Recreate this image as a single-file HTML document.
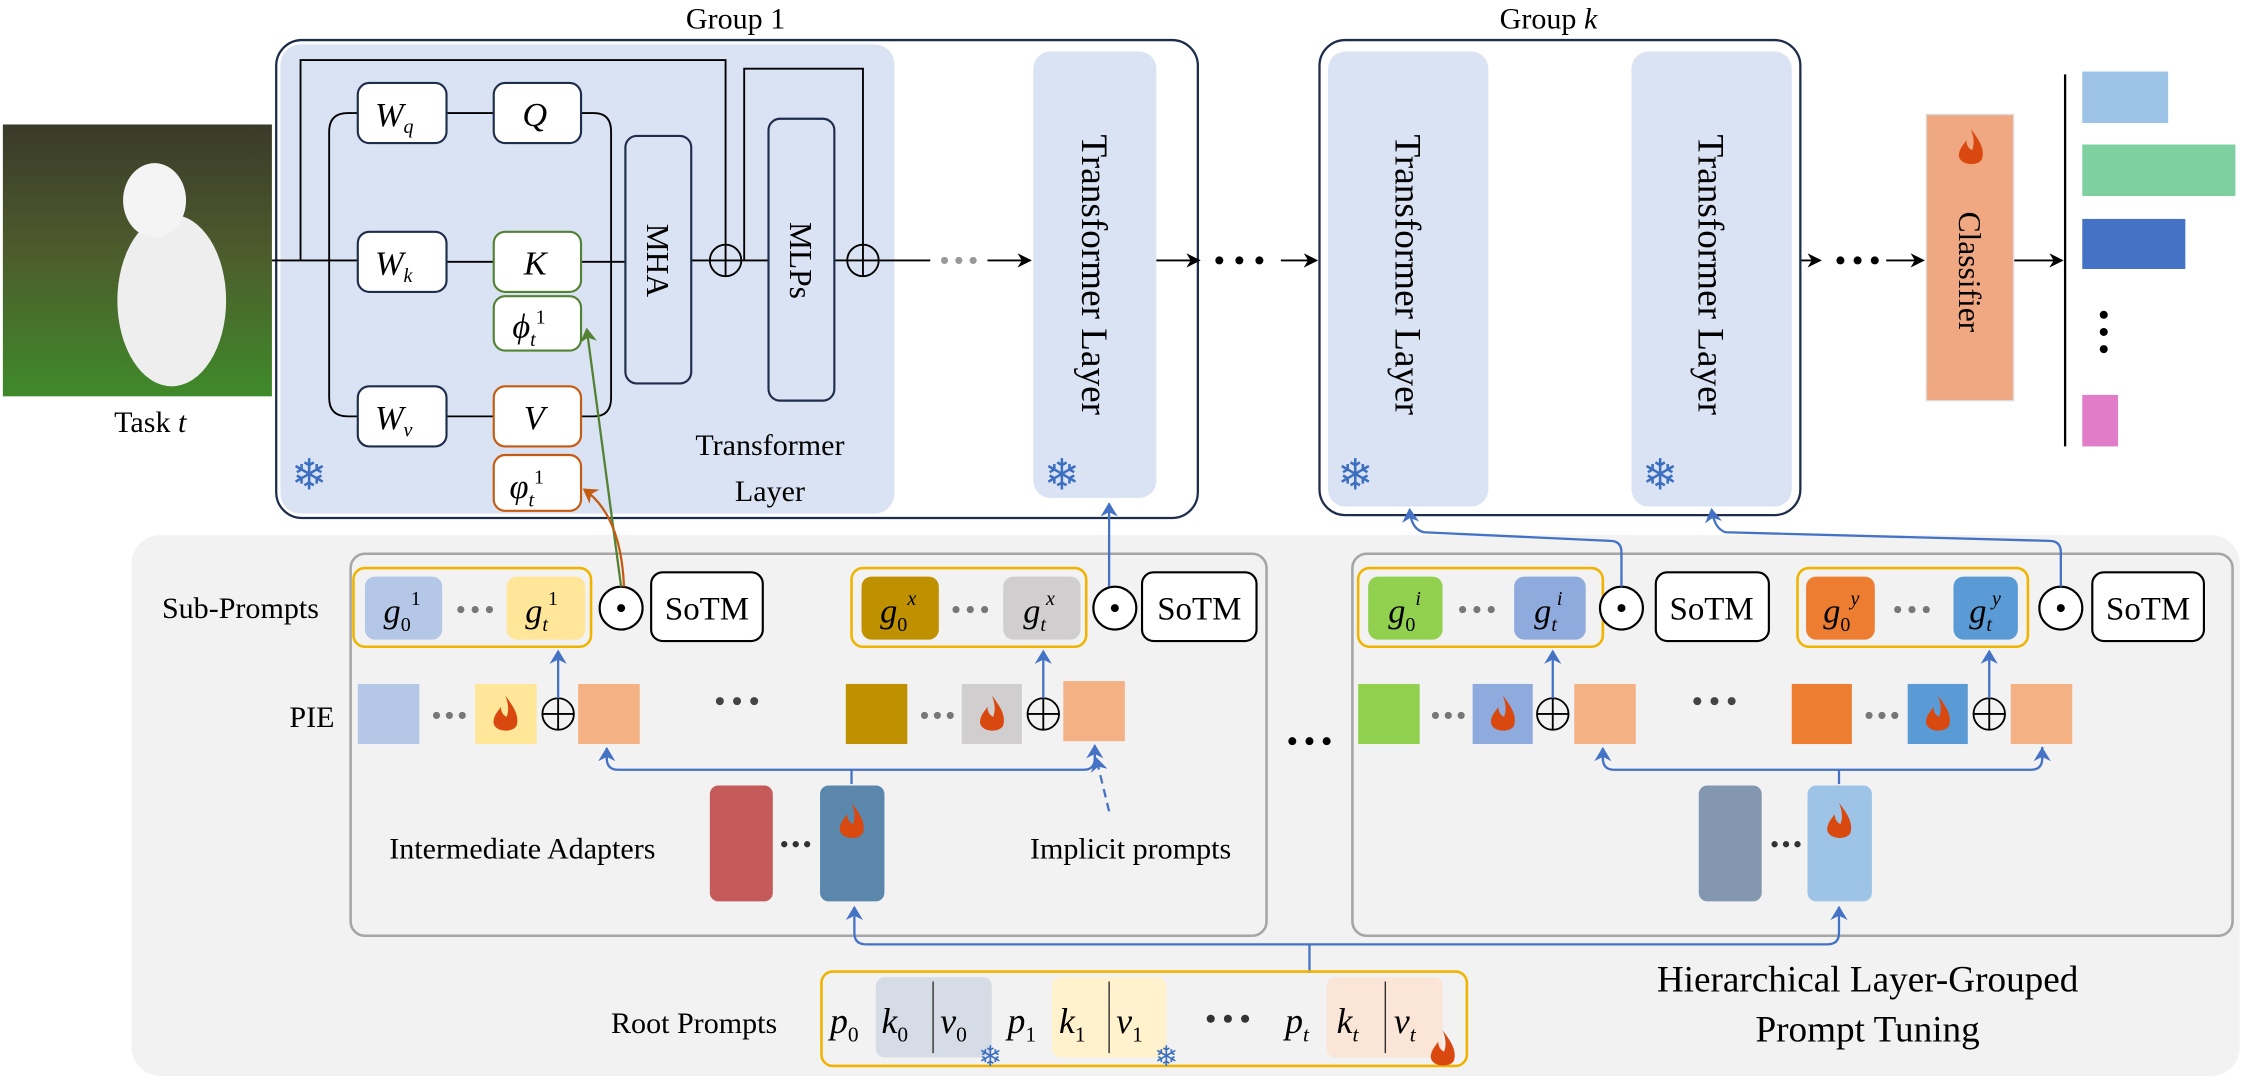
<!DOCTYPE html>
<html><head><meta charset="utf-8"><style>
html,body{margin:0;padding:0;background:#fff;}
svg{display:block}
text{font-family:"Liberation Serif",serif}
.m{font-style:italic}
.sf{fill:#3d6fc0}
</style></head><body>
<svg width="2244" height="1086" viewBox="0 0 1568 759" preserveAspectRatio="none" xmlns="http://www.w3.org/2000/svg">
<defs>
<marker id="ak" markerWidth="10" markerHeight="10" refX="9" refY="5" orient="auto" markerUnits="userSpaceOnUse"><path d="M0,0 L10,5 L0,10 L3,5 z" fill="#000"/></marker>
<marker id="ab" markerWidth="10" markerHeight="12" refX="9" refY="6" orient="auto" markerUnits="userSpaceOnUse"><path d="M0,0 L10,6 L0,12 L3,6 z" fill="#4472c4"/></marker>
<marker id="ag" markerWidth="10" markerHeight="12" refX="9" refY="6" orient="auto" markerUnits="userSpaceOnUse"><path d="M0,0 L10,6 L0,12 L3,6 z" fill="#548235"/></marker>
<marker id="ao" markerWidth="10" markerHeight="12" refX="9" refY="6" orient="auto" markerUnits="userSpaceOnUse"><path d="M0,0 L10,6 L0,12 L3,6 z" fill="#c55a11"/></marker>
<linearGradient id="dog" x1="0" y1="0" x2="0" y2="1"><stop offset="0" stop-color="#3a3a2a"/><stop offset="0.45" stop-color="#4d5a2c"/><stop offset="1" stop-color="#3f8a2a"/></linearGradient>
<g id="fl"><path d="M0,-14 C6,-6 10,0 8,7 C6,12 -6,12 -8,6 C-9,1 -5,-3 -3,-6 C-3,-2 -1,0 1,1 C3,-4 2,-9 0,-14z" fill="#d9480f"/></g>
</defs>

<!-- dog image -->
<rect x="2" y="87" width="188" height="190" fill="url(#dog)"/>
<ellipse cx="120" cy="210" rx="38" ry="60" fill="#eeeeee"/>
<ellipse cx="108" cy="140" rx="22" ry="26" fill="#f4f4f4"/>
<text x="105" y="302" font-size="21" text-anchor="middle">Task <tspan class="m">t</tspan></text>

<!-- Group 1 -->
<text x="514" y="20" font-size="21" text-anchor="middle">Group 1</text>
<rect x="193" y="28" width="644" height="334" rx="18" fill="#fff" stroke="#1f2d4d" stroke-width="1.6"/>
<rect x="196" y="31" width="429" height="328" rx="14" fill="#dae3f3"/>
<rect x="722" y="36" width="86" height="312" rx="12" fill="#dae3f3"/>
<text transform="translate(765,192) rotate(90)" font-size="26" text-anchor="middle" dy="9">Transformer Layer</text>
<text x="742" y="342" font-size="30" class="sf" text-anchor="middle">❄</text>
<text x="216" y="342" font-size="30" class="sf" text-anchor="middle">❄</text>
<text x="538" y="318" font-size="21" text-anchor="middle">Transformer</text>
<text x="538" y="350" font-size="21" text-anchor="middle">Layer</text>

<g fill="none" stroke="#000" stroke-width="1.3">
<path d="M190,182 H250"/>
<path d="M230,182 V92 Q230,79 243,79 H250"/>
<path d="M230,182 V278 Q230,291 243,291 H250"/>
<path d="M312,79 H345 M312,183 H345 M312,291 H345"/>
<path d="M406,79 H415 Q427,79 427,92 V278 Q427,291 415,291 H406"/>
<path d="M406,183 H437"/>
<path d="M210,182 V42 H507 V171"/>
<path d="M483,182 H496 M518,182 H537"/>
<path d="M520,182 V48 H603 V171"/>
<path d="M583,182 H592"/>
<path d="M614,182 H650"/>
<path d="M690,182 H720" marker-end="url(#ak)"/>
<path d="M808,182 H838" marker-end="url(#ak)"/>
<path d="M895,182 H920" marker-end="url(#ak)"/>
<path d="M1040,182 H1058" marker-end="url(#ak)"/>
<path d="M1108,182 H1138" marker-end="url(#ak)"/>
<path d="M1252,182 H1272" marker-end="url(#ak)"/>
<path d="M1318,182 H1344" marker-end="url(#ak)"/>
<path d="M1407,182 H1441" marker-end="url(#ak)"/>
</g>
<g fill="#fff" stroke="#1f2d4d" stroke-width="1.5">
<rect x="250" y="58" width="62" height="42" rx="8"/>
<rect x="345" y="58" width="61" height="42" rx="8"/>
<rect x="250" y="162" width="62" height="42" rx="8"/>
<rect x="250" y="270" width="62" height="42" rx="8"/>
<rect x="437" y="95" width="46" height="173" rx="8" fill="none"/>
<rect x="537" y="83" width="46" height="197" rx="8" fill="none"/>
</g>
<rect x="345" y="162" width="61" height="42" rx="8" fill="#fff" stroke="#548235" stroke-width="1.5"/>
<rect x="345" y="207" width="61" height="38" rx="8" fill="#fff" stroke="#548235" stroke-width="1.5"/>
<rect x="345" y="270" width="61" height="42" rx="8" fill="#fff" stroke="#c55a11" stroke-width="1.5"/>
<rect x="345" y="318" width="61" height="39" rx="8" fill="#fff" stroke="#c55a11" stroke-width="1.5"/>
<g font-size="24" class="m">
<text x="262" y="88" class="m">W<tspan font-size="14" dy="5">q</tspan></text>
<text x="365" y="88" class="m">Q</text>
<text x="262" y="192" class="m">W<tspan font-size="14" dy="5">k</tspan></text>
<text x="366" y="192" class="m">K</text>
<text x="358" y="236" class="m">ϕ<tspan font-size="14" dy="6">t</tspan><tspan font-size="14" dy="-16" font-style="normal">1</tspan></text>
<text x="262" y="300" class="m">W<tspan font-size="14" dy="5">v</tspan></text>
<text x="366" y="300" class="m">V</text>
<text x="356" y="348" class="m">φ<tspan font-size="14" dy="6">t</tspan><tspan font-size="14" dy="-16" font-style="normal">1</tspan></text>
</g>
<text transform="translate(460,182) rotate(90)" font-size="22" text-anchor="middle" dy="8">MHA</text>
<text transform="translate(560,182) rotate(90)" font-size="22" text-anchor="middle" dy="8">MLPs</text>
<g fill="none" stroke="#000" stroke-width="1.3">
<circle cx="507" cy="182" r="11"/><path d="M496,182 H518 M507,171 V193"/>
<circle cx="603" cy="182" r="11"/><path d="M592,182 H614 M603,171 V193"/>
</g>
<g fill="#999"><circle cx="660" cy="182" r="2.5"/><circle cx="670" cy="182" r="2.5"/><circle cx="680" cy="182" r="2.5"/>
<circle cx="1075" cy="182" r="2.5"/><circle cx="1085" cy="182" r="2.5"/><circle cx="1095" cy="182" r="2.5"/></g>
<g fill="#000"><circle cx="852" cy="182" r="2.8"/><circle cx="866" cy="182" r="2.8"/><circle cx="880" cy="182" r="2.8"/>
<circle cx="1286" cy="182" r="2.8"/><circle cx="1298" cy="182" r="2.8"/><circle cx="1310" cy="182" r="2.8"/></g>

<!-- Group k -->
<text x="1082" y="20" font-size="21" text-anchor="middle">Group <tspan class="m">k</tspan></text>
<rect x="922" y="28" width="336" height="332" rx="18" fill="#fff" stroke="#1f2d4d" stroke-width="1.6"/>
<rect x="928" y="36" width="112" height="318" rx="12" fill="#dae3f3"/>
<rect x="1140" y="36" width="112" height="318" rx="12" fill="#dae3f3"/>
<text transform="translate(984,192) rotate(90)" font-size="26" text-anchor="middle" dy="9">Transformer Layer</text>
<text transform="translate(1196,192) rotate(90)" font-size="26" text-anchor="middle" dy="9">Transformer Layer</text>
<text x="947" y="342" font-size="30" class="sf" text-anchor="middle">❄</text>
<text x="1160" y="342" font-size="30" class="sf" text-anchor="middle">❄</text>

<!-- classifier -->
<rect x="1346" y="80" width="61" height="200" fill="#f0a882" stroke="#ddd"/>
<use href="#fl" x="1377" y="104"/>
<text transform="translate(1376,190) rotate(90)" font-size="22" text-anchor="middle" dy="7">Classifier</text>
<path d="M1443,52 V312" stroke="#000" stroke-width="1.6"/>
<rect x="1455" y="50" width="60" height="36" fill="#9dc3e6"/>
<rect x="1455" y="101" width="107" height="36" fill="#7fd0a0"/>
<rect x="1455" y="153" width="72" height="35" fill="#4472c4"/>
<g fill="#000"><circle cx="1470" cy="220" r="2.8"/><circle cx="1470" cy="232" r="2.8"/><circle cx="1470" cy="244" r="2.8"/></g>
<rect x="1455" y="276" width="25" height="36" fill="#e07cc8"/>

<!-- bottom region -->
<rect x="92" y="374" width="1473" height="378" rx="20" fill="#f2f2f2"/>
<rect x="245" y="387" width="640" height="267" rx="10" fill="none" stroke="#a6a6a6" stroke-width="1.8"/>
<rect x="945" y="387" width="615" height="267" rx="10" fill="none" stroke="#a6a6a6" stroke-width="1.8"/>
<text x="168" y="432" font-size="21" text-anchor="middle">Sub-Prompts</text>
<text x="218" y="508" font-size="21" text-anchor="middle">PIE</text>
<text x="365" y="600" font-size="21" text-anchor="middle">Intermediate Adapters</text>
<text x="790" y="600" font-size="21" text-anchor="middle">Implicit prompts</text>
<g fill="#000"><circle cx="903" cy="518" r="2.8"/><circle cx="915" cy="518" r="2.8"/><circle cx="927" cy="518" r="2.8"/></g>

<!-- sub-prompts row -->
<g stroke="#f0b400" stroke-width="1.8" fill="none">
<rect x="247" y="397" width="166" height="55" rx="8"/>
<rect x="595" y="397" width="164" height="55" rx="8"/>
<rect x="949" y="397" width="171" height="55" rx="8"/>
<rect x="1256" y="397" width="161" height="55" rx="8"/>
</g>
<rect x="255" y="403" width="54" height="44" rx="7" fill="#b4c7e7"/>
<rect x="354" y="403" width="55" height="44" rx="7" fill="#ffe699"/>
<rect x="602" y="403" width="54" height="44" rx="7" fill="#bf9000"/>
<rect x="701" y="403" width="54" height="44" rx="7" fill="#d0cece"/>
<rect x="956" y="403" width="52" height="44" rx="7" fill="#92d050"/>
<rect x="1058" y="403" width="50" height="44" rx="7" fill="#8faadc"/>
<rect x="1262" y="403" width="48" height="44" rx="7" fill="#ed7d31"/>
<rect x="1365" y="403" width="45" height="44" rx="7" fill="#5b9bd5"/>
<g font-size="24" class="m">
<text x="268" y="435">g<tspan font-size="14" dy="6" font-style="normal">0</tspan><tspan font-size="14" dy="-18" font-style="normal">1</tspan></text>
<text x="367" y="435">g<tspan font-size="14" dy="6">t</tspan><tspan font-size="14" dy="-18" font-style="normal">1</tspan></text>
<text x="615" y="435">g<tspan font-size="14" dy="6" font-style="normal">0</tspan><tspan font-size="14" dy="-18">x</tspan></text>
<text x="715" y="435">g<tspan font-size="14" dy="6">t</tspan><tspan font-size="14" dy="-18">x</tspan></text>
<text x="970" y="435">g<tspan font-size="14" dy="6" font-style="normal">0</tspan><tspan font-size="14" dy="-18">i</tspan></text>
<text x="1072" y="435">g<tspan font-size="14" dy="6">t</tspan><tspan font-size="14" dy="-18">i</tspan></text>
<text x="1274" y="435">g<tspan font-size="14" dy="6" font-style="normal">0</tspan><tspan font-size="14" dy="-18">y</tspan></text>
<text x="1376" y="435">g<tspan font-size="14" dy="6">t</tspan><tspan font-size="14" dy="-18">y</tspan></text>
</g>
<g fill="#777">
<circle cx="322" cy="426" r="2.5"/><circle cx="332" cy="426" r="2.5"/><circle cx="342" cy="426" r="2.5"/>
<circle cx="668" cy="426" r="2.5"/><circle cx="678" cy="426" r="2.5"/><circle cx="688" cy="426" r="2.5"/>
<circle cx="1022" cy="426" r="2.5"/><circle cx="1032" cy="426" r="2.5"/><circle cx="1042" cy="426" r="2.5"/>
<circle cx="1326" cy="426" r="2.5"/><circle cx="1336" cy="426" r="2.5"/><circle cx="1346" cy="426" r="2.5"/>
</g>
<g fill="#fff" stroke="#000" stroke-width="1.5">
<rect x="455" y="400" width="78" height="48" rx="8"/>
<rect x="798" y="400" width="80" height="48" rx="8"/>
<rect x="1157" y="400" width="79" height="48" rx="8"/>
<rect x="1462" y="400" width="78" height="48" rx="8"/>
<circle cx="434" cy="425" r="15"/><circle cx="779" cy="425" r="15"/>
<circle cx="1133" cy="425" r="15"/><circle cx="1440" cy="425" r="15"/>
</g>
<g fill="#000"><circle cx="434" cy="425" r="2.8"/><circle cx="779" cy="425" r="2.8"/><circle cx="1133" cy="425" r="2.8"/><circle cx="1440" cy="425" r="2.8"/></g>
<g font-size="23" text-anchor="middle">
<text x="494" y="433">SoTM</text><text x="838" y="433">SoTM</text>
<text x="1196" y="433">SoTM</text><text x="1501" y="433">SoTM</text>
</g>

<!-- connectors from SoTM to transformers -->
<path d="M434,410 L410,230" fill="none" stroke="#548235" stroke-width="1.6" marker-end="url(#ag)"/>
<path d="M436,410 Q434,360 408,342" fill="none" stroke="#c55a11" stroke-width="1.6" marker-end="url(#ao)"/>
<path d="M775,410 V352" fill="none" stroke="#4472c4" stroke-width="1.6" marker-end="url(#ab)"/>
<path d="M1133,410 V386 Q1133,378 1125,378 L995,372 Q986,370 985,356" fill="none" stroke="#4472c4" stroke-width="1.6" marker-end="url(#ab)"/>
<path d="M1440,410 V386 Q1440,378 1432,378 L1206,372 Q1198,370 1196,356" fill="none" stroke="#4472c4" stroke-width="1.6" marker-end="url(#ab)"/>

<!-- PIE row -->
<rect x="250" y="478" width="43" height="42" fill="#b4c7e7"/>
<rect x="332" y="478" width="43" height="42" fill="#ffe699"/><use href="#fl" x="353" y="500"/>
<rect x="404" y="478" width="43" height="42" fill="#f4b183"/>
<rect x="591" y="478" width="43" height="42" fill="#bf9000"/>
<rect x="672" y="478" width="42" height="42" fill="#d0cece"/><use href="#fl" x="693" y="500"/>
<rect x="743" y="476" width="43" height="42" fill="#f4b183"/>
<rect x="949" y="478" width="43" height="42" fill="#92d050"/>
<rect x="1029" y="478" width="42" height="42" fill="#8faadc"/><use href="#fl" x="1050" y="500"/>
<rect x="1100" y="478" width="43" height="42" fill="#f4b183"/>
<rect x="1252" y="478" width="42" height="42" fill="#ed7d31"/>
<rect x="1333" y="478" width="42" height="42" fill="#5b9bd5"/><use href="#fl" x="1354" y="500"/>
<rect x="1405" y="478" width="43" height="42" fill="#f4b183"/>
<g fill="#777">
<circle cx="305" cy="500" r="2.5"/><circle cx="314" cy="500" r="2.5"/><circle cx="323" cy="500" r="2.5"/>
<circle cx="646" cy="500" r="2.5"/><circle cx="655" cy="500" r="2.5"/><circle cx="664" cy="500" r="2.5"/>
<circle cx="1003" cy="500" r="2.5"/><circle cx="1012" cy="500" r="2.5"/><circle cx="1021" cy="500" r="2.5"/>
<circle cx="1306" cy="500" r="2.5"/><circle cx="1315" cy="500" r="2.5"/><circle cx="1324" cy="500" r="2.5"/>
</g>
<g fill="#444">
<circle cx="503" cy="490" r="2.8"/><circle cx="515" cy="490" r="2.8"/><circle cx="527" cy="490" r="2.8"/>
<circle cx="1186" cy="490" r="2.8"/><circle cx="1198" cy="490" r="2.8"/><circle cx="1210" cy="490" r="2.8"/>
</g>
<g fill="none" stroke="#000" stroke-width="1.3">
<circle cx="390" cy="499" r="11"/><path d="M379,499 H401 M390,488 V510"/>
<circle cx="729" cy="499" r="11"/><path d="M718,499 H740 M729,488 V510"/>
<circle cx="1085" cy="499" r="11"/><path d="M1074,499 H1096 M1085,488 V510"/>
<circle cx="1390" cy="499" r="11"/><path d="M1379,499 H1401 M1390,488 V510"/>
</g>
<g fill="none" stroke="#4472c4" stroke-width="1.6">
<path d="M390,488 V455" marker-end="url(#ab)"/>
<path d="M729,488 V455" marker-end="url(#ab)"/>
<path d="M1085,488 V455" marker-end="url(#ab)"/>
<path d="M1390,488 V455" marker-end="url(#ab)"/>
<path d="M424,523 V530 Q424,538 432,538 H757 Q765,538 765,530 V522"/>
<path d="M424,531 V523" marker-end="url(#ab)"/>
<path d="M765,531 V521" marker-end="url(#ab)"/>
<path d="M595,548 V538"/>
<path d="M1120,523 V530 Q1120,538 1128,538 H1419 Q1427,538 1427,530 V522"/>
<path d="M1120,531 V523" marker-end="url(#ab)"/>
<path d="M1427,531 V523" marker-end="url(#ab)"/>
<path d="M1285,548 V538"/>
<path d="M775,567 L766,530" stroke-dasharray="6,4" marker-end="url(#ab)"/>
<path d="M915,680 V660 M605,660 H1277"/>
<path d="M605,660 Q597,660 597,652 V634" marker-end="url(#ab)"/>
<path d="M1277,660 Q1285,660 1285,652 V634" marker-end="url(#ab)"/>
</g>
<!-- adapters -->
<rect x="496" y="549" width="44" height="81" rx="6" fill="#c55a5a"/>
<rect x="573" y="549" width="45" height="81" rx="6" fill="#5b87ad"/><use href="#fl" x="595" y="575"/>
<rect x="1187" y="549" width="44" height="81" rx="6" fill="#8497b0"/>
<rect x="1263" y="549" width="45" height="81" rx="6" fill="#9dc3e6"/><use href="#fl" x="1285" y="575"/>
<g fill="#333"><circle cx="548" cy="590" r="2.2"/><circle cx="556" cy="590" r="2.2"/><circle cx="564" cy="590" r="2.2"/>
<circle cx="1240" cy="590" r="2.2"/><circle cx="1248" cy="590" r="2.2"/><circle cx="1256" cy="590" r="2.2"/></g>

<!-- root prompts -->
<text x="485" y="722" font-size="21" text-anchor="middle">Root Prompts</text>
<rect x="574" y="679" width="451" height="66" rx="8" fill="none" stroke="#f0b400" stroke-width="1.8"/>
<rect x="612" y="683" width="81" height="56" rx="6" fill="#d6dce5"/>
<rect x="735" y="683" width="80" height="56" rx="6" fill="#fff2cc"/>
<rect x="927" y="683" width="81" height="56" rx="6" fill="#fbe5d6"/>
<g stroke="#333" stroke-width="1"><path d="M652,686 V736 M775,686 V736 M968,686 V736"/></g>
<g font-size="25" class="m">
<text x="580" y="722">p<tspan font-size="15" dy="6" font-style="normal">0</tspan></text>
<text x="616" y="722">k<tspan font-size="15" dy="6" font-style="normal">0</tspan></text>
<text x="657" y="722">v<tspan font-size="15" dy="6" font-style="normal">0</tspan></text>
<text x="704" y="722">p<tspan font-size="15" dy="6" font-style="normal">1</tspan></text>
<text x="740" y="722">k<tspan font-size="15" dy="6" font-style="normal">1</tspan></text>
<text x="780" y="722">v<tspan font-size="15" dy="6" font-style="normal">1</tspan></text>
<text x="898" y="722">p<tspan font-size="15" dy="6">t</tspan></text>
<text x="934" y="722">k<tspan font-size="15" dy="6">t</tspan></text>
<text x="974" y="722">v<tspan font-size="15" dy="6">t</tspan></text>
</g>
<g fill="#333"><circle cx="846" cy="712" r="2.8"/><circle cx="858" cy="712" r="2.8"/><circle cx="870" cy="712" r="2.8"/></g>
<text x="692" y="745" font-size="20" class="sf" text-anchor="middle">❄</text>
<text x="815" y="745" font-size="20" class="sf" text-anchor="middle">❄</text>
<use href="#fl" x="1008" y="734"/>
<text x="1305" y="693" font-size="26" text-anchor="middle">Hierarchical Layer-Grouped</text>
<text x="1305" y="728" font-size="26" text-anchor="middle">Prompt Tuning</text>
</svg>
</body></html>
